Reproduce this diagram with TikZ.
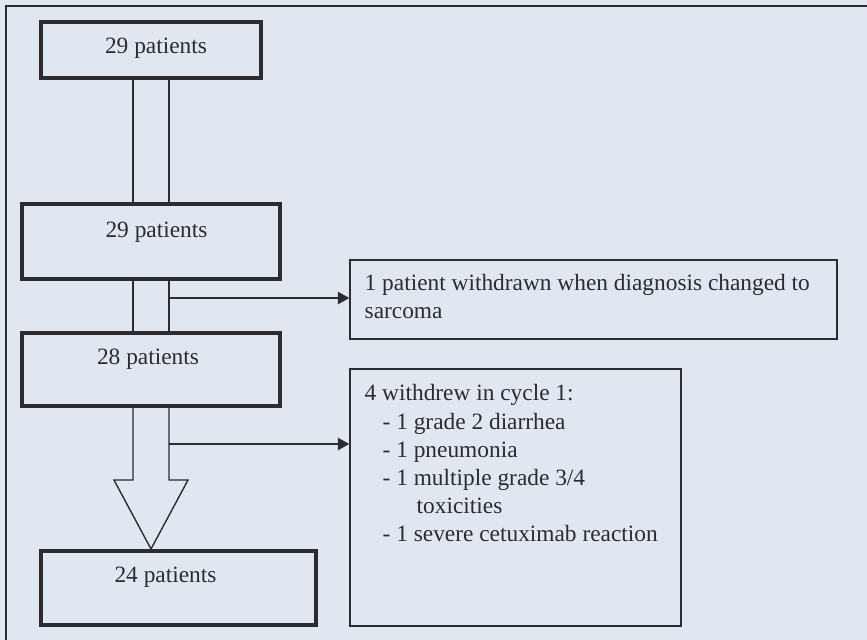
\documentclass[tikz,border=0pt]{standalone}
\usepackage{fontspec}
\setmainfont{Liberation Serif}
\usepackage{xcolor}
\usetikzlibrary{arrows.meta,calc}

\definecolor{panel}{HTML}{E1E7F0}
\definecolor{ink}{HTML}{2B2B30}

\begin{document}
\begin{tikzpicture}[
    x=0.02cm, y=-0.02cm,
    every node/.style={font=\fontsize{13.3}{16}\selectfont, text=ink},
    count/.style={draw=ink, line width=2.3pt, inner sep=0pt},
    note/.style={draw=ink, line width=0.8pt, inner sep=0pt},
    boxtext/.style={anchor=north, inner sep=0pt},
    notetext/.style={anchor=north west, inner sep=0pt, align=left},
    shaft/.style={draw=ink, line width=0.8pt},
    side/.style={draw=ink, line width=0.8pt, -{Triangle[length=6.5pt,width=7pt]}}
]
\useasboundingbox (0,0) rectangle (867,640);
\fill[panel] (0,0) rectangle (867,640);
\draw[ink, line width=1.6pt] (6,640) -- (6,6) -- (867,6);

% patient counts
\node[count, minimum width=4.42cm, minimum height=1.12cm,
      label={[boxtext, xshift=0.1cm, yshift=-0.36cm]north:29 patients}] (b1) at (151,50) {};
\node[count, minimum width=5.16cm, minimum height=1.5cm,
      label={[boxtext, xshift=0.11cm, yshift=-0.4cm]north:29 patients}] (b2) at (151,241.5) {};
\node[count, minimum width=5.16cm, minimum height=1.46cm,
      label={[boxtext, xshift=-0.06cm, yshift=-0.36cm]north:28 patients}] (b3) at (151,369.5) {};
\node[count, minimum width=5.5cm, minimum height=1.48cm,
      label={[boxtext, xshift=-0.26cm, yshift=-0.35cm]north:24 patients}] (b4) at (178.5,588) {};

% withdrawals
\node[note, minimum width=9.74cm, minimum height=1.58cm,
      label={[notetext, xshift=0.3cm, yshift=-0.3cm]north west:1 patient withdrawn when diagnosis changed to\\sarcoma}] (s1) at (593.5,299.5) {};
\node[note, minimum width=6.62cm, minimum height=5.14cm,
      label={[notetext, xshift=0.3cm, yshift=-0.32cm]north west:4 withdrew in cycle 1:\\
        \hspace*{0.36cm}- 1 grade 2 diarrhea\\
        \hspace*{0.36cm}- 1 pneumonia\\
        \hspace*{0.36cm}- 1 multiple grade 3/4\\
        \hspace*{1.04cm}toxicities\\
        \hspace*{0.36cm}- 1 severe cetuximab reaction}] (s2) at (515.5,497.5) {};

% double-line connectors
\foreach \dx in {-18,18} {
    \draw[shaft] ($(b1.south)+(\dx,0)$) -- ($(b2.north)+(\dx,0)$);
    \draw[shaft] ($(b2.south)+(\dx,0)$) -- ($(b3.north)+(\dx,0)$);
}
\draw[shaft] ($(b3.south)+(-18,0)$) -- ++(0,72) -- ++(-19,0) -- (b3.south |- b4.north)
    -- ($(b3.south)+(37,72)$) -- ++(-19,0) -- ($(b3.south)+(18,0)$);

% side arrows
\coordinate (j1) at ($(b2.south)+(18,17)$);
\coordinate (j2) at ($(b3.south)+(18,36)$);
\draw[side] (j1) -- (j1 -| s1.west);
\draw[side] (j2) -- (j2 -| s2.west);
\end{tikzpicture}
\end{document}
